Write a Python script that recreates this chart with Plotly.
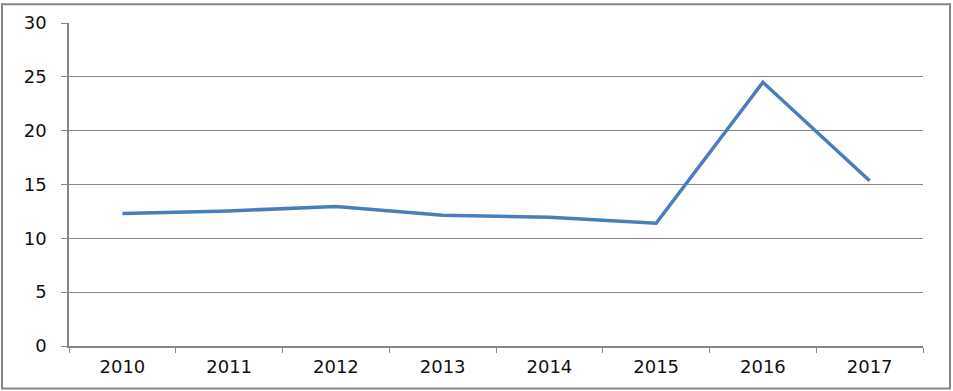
import plotly.graph_objects as go

years = ["2010", "2011", "2012", "2013", "2014", "2015", "2016", "2017"]
values = [12.3, 12.55, 12.95, 12.15, 11.95, 11.4, 24.5, 15.35]
y_ticks = [0, 5, 10, 15, 20, 25, 30]

W, H = 953, 391
L, R, T, B = 69, 30, 20, 45
pw, ph = W - L - R, H - T - B

fig = go.Figure()
fig.add_trace(go.Scatter(
    x=years, y=values, mode="lines",
    line=dict(color="#4A7EBB", width=3.5),
    hoverinfo="x+y",
))

font = dict(family="DejaVu Sans", size=18, color="#111111")

fig.update_layout(
    width=W, height=H,
    margin=dict(l=L, r=R, t=T, b=B),
    paper_bgcolor="white", plot_bgcolor="white",
    showlegend=False,
    xaxis=dict(
        type="category", range=[-0.5, 7.5],
        tickson="boundaries", ticks="outside", ticklen=5, tickcolor="#868686",
        showline=True, linecolor="#868686", linewidth=1.5,
        showgrid=False, tickfont=font, zeroline=False, ticklabelstandoff=4,
    ),
    yaxis=dict(
        range=[0, 30], tickvals=y_ticks,
        ticks="outside", ticklen=6, tickcolor="#868686",
        showline=True, linecolor="#868686", linewidth=1.5,
        showgrid=True, gridcolor="#868686", gridwidth=1,
        tickfont=font, zeroline=False, ticklabelstandoff=11,
    ),
    shapes=[dict(
        type="rect", xref="paper", yref="paper",
        x0=(2 - L) / pw, x1=(950 - L) / pw,
        y0=(H - 389 - B) / ph, y1=(H - 1 - B) / ph,
        line=dict(color="#868686", width=2), fillcolor="rgba(0,0,0,0)",
        layer="below",
    )],
)

fig.write_html(
    "out.html",
    config={"displayModeBar": False},
    post_script="document.body.style.margin='0';document.body.style.overflow='hidden';",
)
